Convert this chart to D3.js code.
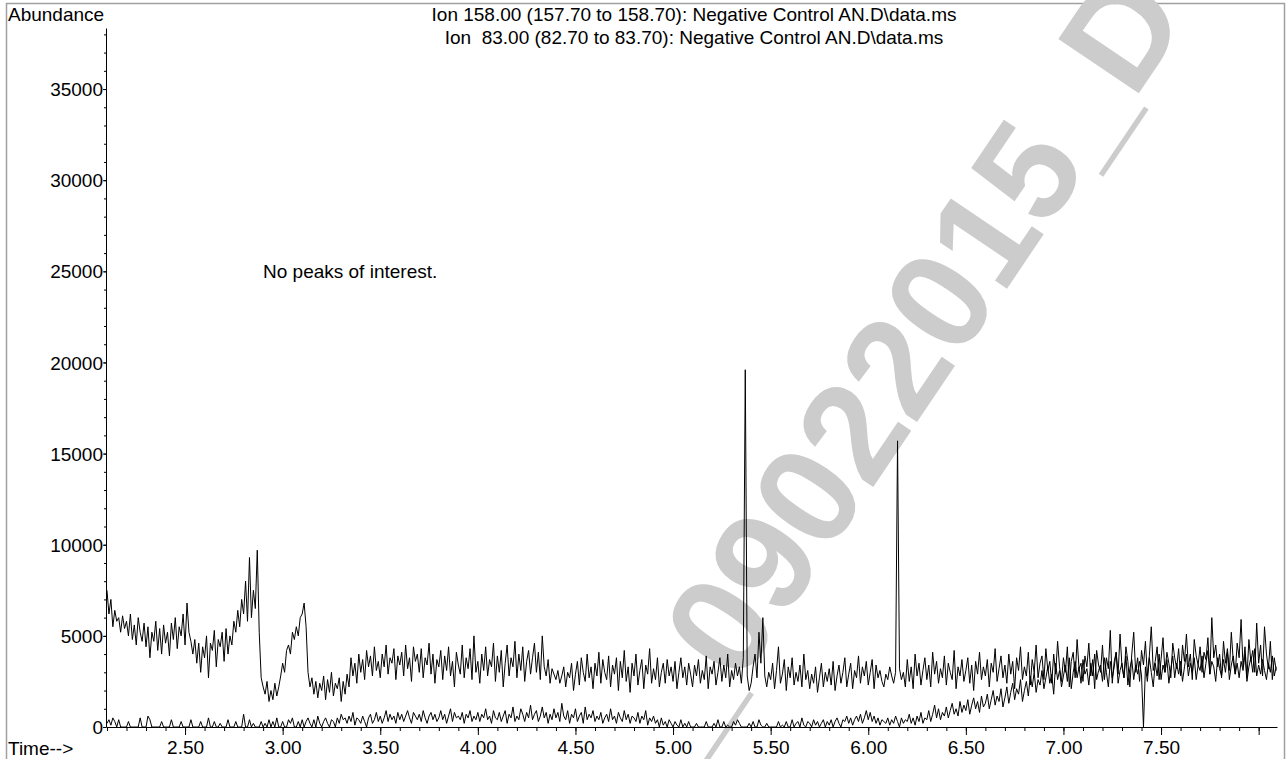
<!DOCTYPE html>
<html>
<head>
<meta charset="utf-8">
<script src="https://cdn.jsdelivr.net/npm/d3@7/dist/d3.min.js"></script>
<style>
  html, body { margin: 0; padding: 0; background: #fff; }
  svg { display: block; }
  text { font-family: "Liberation Sans", Arial, Helvetica, sans-serif; }
</style>
</head>
<body>
<svg id="chart" width="1286" height="759"></svg>
<script>
// ---- Data ----
const titleLines = [
  "Ion 158.00 (157.70 to 158.70): Negative Control AN.D\\data.ms",
  "Ion  83.00 (82.70 to 83.70): Negative Control AN.D\\data.ms"
];
const yTickValues = [0, 5000, 10000, 15000, 20000, 25000, 30000, 35000];
const xTickValues = [2.5, 3.0, 3.5, 4.0, 4.5, 5.0, 5.5, 6.0, 6.5, 7.0, 7.5, 8.0];
const xTickLabels = ["2.50", "3.00", "3.50", "4.00", "4.50", "5.00", "5.50", "6.00", "6.50", "7.00", "7.50", ""];
const annotation = "No peaks of interest.";
const watermark = "_09022015_D";

// scans: start time and interval (min); abundances in units of 100 counts
const scanStart = 2.10;
const scanStep = 0.01;
const abundanceUnit = 100;

const upperTrace = [
  75,62,70,55,64,58,60,52,61,54,
  58,50,62,48,56,45,60,52,47,57,
  44,55,38,52,47,58,42,54,40,56,
  46,52,39,57,48,60,43,55,50,62,
  45,68,52,47,40,48,35,46,30,44,
  38,50,27,46,42,53,33,48,44,52,
  36,54,40,50,45,58,52,64,55,70,
  62,80,58,93,60,75,65,97,52,27,
  22,18,25,14,20,15,24,17,22,28,
  35,30,42,45,40,52,48,55,50,60,
  62,68,55,30,22,27,18,25,16,24,
  20,28,15,26,19,30,17,24,21,27,
  14,25,18,29,22,38,28,35,24,40,
  30,37,26,42,33,39,28,44,31,36,
  27,40,33,45,29,38,35,43,26,39,
  34,41,28,45,32,38,25,44,36,40,
  30,43,27,38,34,46,29,40,24,37,
  33,42,26,39,31,44,28,36,22,41,
  34,29,45,27,38,32,43,26,50,30,
  36,24,40,31,44,28,37,33,46,25,
  39,30,42,22,35,45,28,38,33,47,
  27,40,31,44,25,36,42,29,38,46,
  30,41,26,50,33,28,37,24,32,29,
  26,31,24,28,33,22,30,27,35,20,
  29,36,23,38,30,25,40,27,33,21,
  35,28,41,24,37,30,26,39,22,34,
  29,38,20,36,27,42,25,33,19,35,
  28,40,23,31,37,21,34,29,43,24,
  32,26,38,22,30,35,24,37,28,33,
  25,36,21,30,38,27,33,23,35,29,
  22,34,28,37,24,31,26,39,21,33,
  29,36,23,30,38,25,34,27,40,22,
  31,26,35,28,33,24,38,196,28,20,
  24,33,40,27,52,35,60,28,22,30,
  26,35,21,31,44,24,29,37,20,33,
  27,38,23,30,25,34,22,40,26,31,
  21,29,24,33,19,27,35,22,30,25,
  32,23,36,20,28,34,24,30,38,22,
  29,35,21,31,27,39,24,33,28,36,
  23,30,37,21,34,27,31,25,22,29,
  26,33,28,24,30,157,32,26,30,22,
  37,25,33,21,40,28,35,23,31,38,
  26,34,22,41,29,36,24,32,27,39,
  23,35,30,26,42,21,33,28,37,25,
  31,38,24,34,20,36,29,41,26,33,
  28,37,22,35,30,43,25,32,39,27,
  34,24,40,29,36,21,38,31,44,26,
  33,28,41,23,37,30,45,27,35,39,
  26,43,31,36,24,40,29,47,33,25,
  38,30,44,22,36,41,27,48,32,35,
  25,39,33,46,28,37,21,42,34,30,
  45,26,38,32,53,24,36,41,29,51,
  33,27,44,36,22,40,52,30,38,25,
  42,34,47,28,39,55,31,36,44,26,
  37,49,30,41,35,27,46,38,32,43,
  28,45,36,51,33,40,26,48,39,34,
  44,30,41,37,49,29,60,38,45,33,
  40,27,47,35,43,31,52,36,29,46,
  38,59,33,44,27,48,36,42,30,57,
  35,45,28,55,40,32,47,26,38,31
];

const lowerTrace = [
  2,4,1,5,3,0,4,0,0,0,
  0,3,0,0,0,0,0,5,0,0,
  0,6,4,0,0,0,0,0,3,0,
  0,0,0,4,0,0,0,0,3,0,
  0,0,0,4,0,0,0,0,3,0,
  0,0,5,0,0,3,0,0,2,0,
  0,0,4,0,0,0,3,0,0,0,
  7,0,0,4,0,2,0,0,0,3,
  0,2,0,4,0,3,0,5,0,0,
  3,0,0,4,2,5,0,0,3,0,
  4,0,3,5,2,0,4,0,6,2,
  0,3,5,2,0,4,3,0,5,2,
  7,4,5,2,6,3,8,1,5,4,
  2,6,3,0,5,7,2,4,8,3,
  6,2,5,9,3,7,4,6,2,8,
  4,7,3,6,9,5,2,8,6,4,
  7,3,9,5,2,6,8,4,7,3,
  5,9,4,7,2,6,10,3,8,5,
  6,4,8,2,7,5,9,3,6,4,
  8,3,7,5,10,4,6,2,9,5,
  4,8,3,6,9,2,7,5,11,3,
  6,4,10,7,3,8,5,12,4,7,
  9,3,6,11,5,8,2,7,4,10,
  5,8,3,13,6,4,9,2,7,5,
  10,3,6,8,2,11,4,7,5,9,
  3,6,4,8,2,5,7,3,10,4,
  6,2,8,5,3,9,4,7,2,6,
  5,3,8,2,6,4,9,1,5,3,
  6,2,4,0,5,1,3,0,4,2,
  0,3,1,0,4,0,2,0,3,0,
  0,0,2,0,0,0,0,3,0,0,
  0,2,0,4,0,0,3,0,1,0,
  0,3,1,4,2,0,0,0,0,2,
  0,3,0,0,4,1,0,0,2,0,
  0,0,0,0,3,0,1,0,3,0,
  0,4,0,2,3,0,5,1,0,3,
  2,0,4,1,3,0,2,4,0,3,
  1,4,0,3,5,2,0,4,3,6,
  2,5,1,4,6,3,7,2,5,9,
  4,8,3,6,2,5,1,4,3,2,
  5,1,4,2,6,3,0,5,2,4,
  3,7,2,5,1,6,3,8,2,5,
  4,9,3,7,12,5,10,4,8,6,
  11,5,9,13,7,10,6,14,8,12,
  9,15,7,12,16,10,14,8,17,11,
  13,18,10,15,20,12,17,14,21,11,
  16,22,13,19,24,15,21,18,26,14,
  20,25,17,28,22,30,19,26,23,31,
  21,27,33,24,29,18,35,26,31,22,
  28,34,25,38,21,30,36,27,33,24,
  37,29,32,23,35,28,40,26,31,34,
  25,38,30,22,36,27,33,41,24,31,
  35,27,39,23,32,37,26,34,29,36,
  28,0,33,25,38,30,22,35,28,40,
  26,34,30,37,24,32,39,27,35,29,
  36,25,33,40,28,35,30,38,26,34,
  31,39,27,35,42,29,36,33,25,38,
  32,28,37,30,41,26,34,39,29,35,
  27,36,31,40,25,33,38,30,43,28,
  34,29,37,31,26,35,30,39,28,33
];

// ---- Layout ----
const svg = d3.select("#chart");
const plot = { left: 106, right: 1277, top: 28, bottom: 727 };
const xDomain = [2.095, 8.094];
const yMax = 38350;
const FS = 19;

const x = d3.scaleLinear().domain(xDomain).range([plot.left, plot.right]);
const y = d3.scaleLinear().domain([0, yMax]).range([plot.bottom, plot.top]);

// frame
svg.append("rect")
  .attr("x", 6.5).attr("y", 3.5)
  .attr("width", 1278).attr("height", 770)
  .attr("fill", "none").attr("stroke", "#a0a0a0").attr("stroke-width", 1.5);

// watermark (behind the traces)
svg.append("text")
  .attr("transform", "translate(695,751) rotate(-56)")
  .attr("font-size", 141)
  .attr("font-weight", "bold")
  .attr("fill", "#cccccc")
  .text(watermark);

// axes
const xMinor = d3.range(21, 81).map(d => d / 10);
const yMinor = d3.range(0, 39).map(d => d * 1000);

const xAxis = d3.axisBottom(x)
  .tickValues(xTickValues)
  .tickSize(8)
  .tickSizeOuter(0)
  .tickFormat((d, i) => xTickLabels[i]);
const gx = svg.append("g").attr("transform", `translate(0,${plot.bottom})`).call(xAxis);
gx.select(".domain").attr("stroke", "#000");
gx.selectAll(".tick line").attr("stroke", "#000");
gx.selectAll(".tick text").attr("font-size", FS).attr("fill", "#000").attr("y", 14).attr("dy", "0.71em");

const gxm = svg.append("g").attr("transform", `translate(0,${plot.bottom})`)
  .call(d3.axisBottom(x).tickValues(xMinor).tickSize(4).tickFormat(""));
gxm.select(".domain").remove();
gxm.selectAll(".tick line").attr("stroke", "#000");

const yAxis = d3.axisLeft(y)
  .tickValues(yTickValues)
  .tickSize(3)
  .tickSizeOuter(0)
  .tickFormat(d3.format("d"));
const gy = svg.append("g").attr("transform", `translate(${plot.left},0)`).call(yAxis);
gy.select(".domain").attr("stroke", "#000");
gy.selectAll(".tick line").attr("stroke", "#000");
gy.selectAll(".tick text").attr("font-size", FS).attr("fill", "#000").attr("x", -3).attr("dy", "0.35em");

const gym = svg.append("g").attr("transform", `translate(${plot.left},0)`)
  .call(d3.axisLeft(y).tickValues(yMinor).tickSize(2).tickFormat(""));
gym.select(".domain").remove();
gym.selectAll(".tick line").attr("stroke", "#000");

// traces
const line = d3.line()
  .x((d, i) => x(scanStart + i * scanStep))
  .y(d => y(d * abundanceUnit));

svg.append("path").datum(lowerTrace)
  .attr("d", line).attr("fill", "none").attr("stroke", "#000").attr("stroke-width", 1);
svg.append("path").datum(upperTrace)
  .attr("d", line).attr("fill", "none").attr("stroke", "#000").attr("stroke-width", 1);

// texts
svg.append("text").attr("x", 8).attr("y", 21).attr("font-size", FS).text("Abundance");
svg.append("text").attr("x", 8).attr("y", 755).attr("font-size", FS).text("Time-->");
svg.selectAll(".title").data(titleLines).enter().append("text")
  .attr("class", "title")
  .attr("x", 694).attr("y", (d, i) => 21 + i * 23)
  .attr("text-anchor", "middle")
  .attr("font-size", FS)
  .attr("xml:space", "preserve")
  .style("white-space", "pre")
  .text(d => d);
svg.append("text").attr("x", 263).attr("y", 278).attr("font-size", FS).text(annotation);
</script>
</body>
</html>
